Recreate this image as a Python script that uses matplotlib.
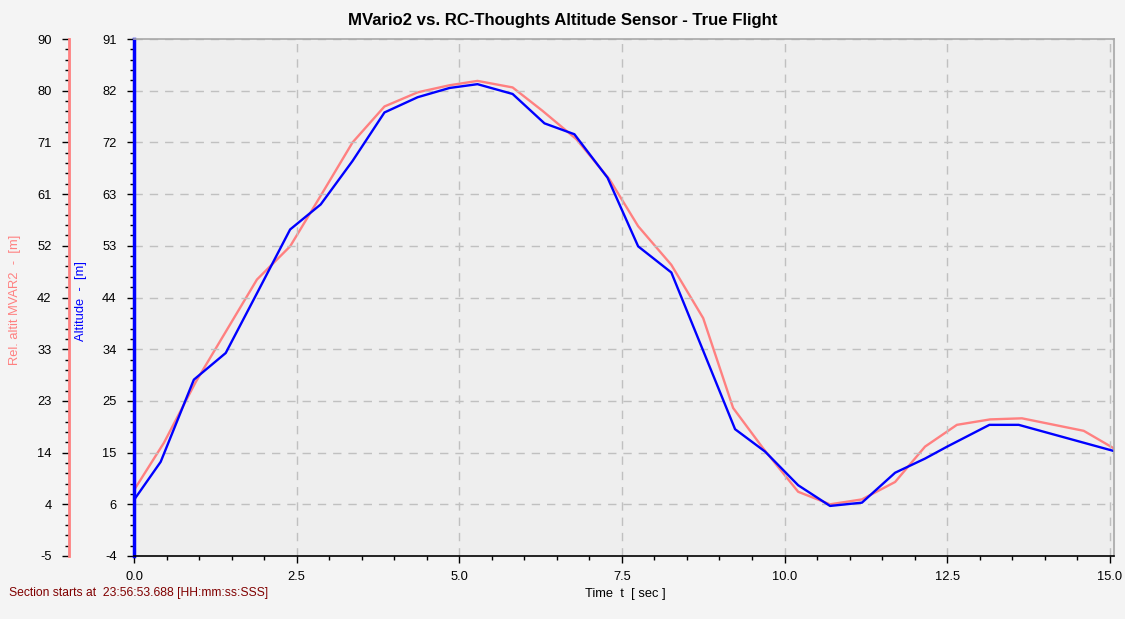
import matplotlib
matplotlib.use('Agg')
import matplotlib.pyplot as plt
from matplotlib.ticker import MultipleLocator, FixedLocator

plt.rcParams['font.family'] = ['Liberation Sans', 'DejaVu Sans']

# RC-Thoughts altitude (blue, inner axis)
t_blue = [0.0, 0.41, 0.92, 1.41, 1.90, 2.40, 2.87, 3.36, 3.85, 4.36, 4.85, 5.28,
          5.82, 6.31, 6.77, 7.28, 7.75, 8.26, 8.74, 9.24, 9.70, 10.21, 10.70,
          11.19, 11.70, 12.16, 12.50, 13.15, 13.60, 15.06]
alt_blue = [6.3, 13.3, 28.4, 33.3, 44.5, 56.0, 60.6, 68.6, 77.5, 80.3, 82.0, 82.7,
            80.9, 75.5, 73.5, 65.5, 52.9, 48.1, 34.0, 19.3, 15.2, 9.0, 5.2,
            5.8, 11.3, 13.9, 16.1, 20.1, 20.1, 15.3]

# MVario2 relative altitude (red, outer axis)
t_red = [0.0, 0.46, 0.95, 1.43, 1.89, 2.40, 2.90, 3.36, 3.85, 4.36, 4.85, 5.28,
         5.82, 6.28, 6.80, 7.31, 7.75, 8.26, 8.75, 9.21, 9.67, 10.21, 10.70,
         11.19, 11.70, 12.16, 12.65, 13.16, 13.65, 14.60, 15.06]
alt_red = [7.1, 15.8, 27.0, 36.6, 45.8, 51.9, 61.8, 71.0, 77.6, 80.2, 81.5, 82.3,
           81.1, 76.8, 71.6, 64.2, 55.6, 48.5, 38.7, 22.2, 14.8, 6.8, 4.5,
           5.4, 8.6, 15.1, 19.1, 20.1, 20.3, 18.0, 14.8]

blue_ticks = [-4, 5.5, 15, 24.5, 34, 43.5, 53, 62.5, 72, 81.5, 91]
blue_labels = ['-4', '6', '15', '25', '34', '44', '53', '63', '72', '82', '91']
red_ticks = [-5, 4.5, 14, 23.5, 33, 42.5, 52, 61.5, 71, 80.5, 90]
red_labels = ['-5', '4', '14', '23', '33', '42', '52', '61', '71', '80', '90']
x_ticks = [0.0, 2.5, 5.0, 7.5, 10.0, 12.5, 15.0]

FS = 9.3

W, H = 1125, 619
fig = plt.figure(figsize=(W / 100, H / 100), dpi=100, facecolor='#f4f4f4')
L, R, T, B = 134, 1114, 39, 556
fig.patches.append(plt.Rectangle((L / W, 1 - B / H), (R - L) / W, (B - T) / H,
                                 transform=fig.transFigure, color='#eeeeee', zorder=-10))

# outer red axis (drawn first, underneath)
ax2 = fig.add_axes([L / W, 1 - B / H, (R - L) / W, (B - T) / H])
ax2.patch.set_visible(False)
ax2.plot(t_red, alt_red, color='#ff8080', lw=1.7)
ax2.set_xlim(0, 15.065)
ax2.set_ylim(-5, 90)
ax2.set_xticks([])
ax2.spines['left'].set_position(('outward', 65 * 0.72))
ax2.spines['left'].set_color('#ff8080')
ax2.spines['left'].set_linewidth(2)
for s in ['top', 'right', 'bottom']:
    ax2.spines[s].set_visible(False)
ax2.set_yticks(red_ticks)
ax2.set_yticklabels(red_labels)
ax2.yaxis.set_minor_locator(FixedLocator([red_ticks[0] + i * 1.9 for i in range(51)]))
ax2.tick_params(axis='y', which='major', length=5, width=1, labelsize=FS, pad=7.5, colors='black')
ax2.tick_params(axis='y', which='minor', length=3, width=1)

# inner blue axis
ax = fig.add_axes([L / W, 1 - B / H, (R - L) / W, (B - T) / H])
ax.patch.set_visible(False)
ax.plot(t_blue, alt_blue, color='#0000ff', lw=1.7)
ax.set_xlim(0, 15.065)
ax.set_ylim(-4, 91)

ax.set_xticks(x_ticks)
ax.set_xticklabels(['%.1f' % v for v in x_ticks])
ax.xaxis.set_minor_locator(MultipleLocator(0.5))
ax.set_yticks(blue_ticks)
ax.set_yticklabels(blue_labels)
ax.yaxis.set_minor_locator(FixedLocator([blue_ticks[0] + i * 1.9 for i in range(51)]))

ax.grid(True, which='major', color='#c0c0c0', ls=(0, (6, 5)), lw=1.0)
ax.tick_params(axis='both', which='major', length=5, width=1, labelsize=FS, colors='black')
ax.tick_params(axis='both', which='minor', length=3, width=1)
ax.tick_params(axis='y', pad=7.5)
ax.tick_params(axis='x', pad=6)

for s in ['top', 'right']:
    ax.spines[s].set_color('#a8a8a8')
    ax.spines[s].set_linewidth(1.2)
ax.spines['bottom'].set_color('black')
ax.spines['bottom'].set_linewidth(1.2)
ax.spines['left'].set_color('#0000ff')
ax.spines['left'].set_linewidth(2.5)

fig.text(15 / W, 1 - 300 / H, 'Rel. altit MVAR2  -  [m]', rotation=90, color='#ff8080',
         fontsize=FS, ha='center', va='center')
fig.text(81 / W, 1 - 301 / H, 'Altitude  -  [m]', rotation=90, color='#0000ff',
         fontsize=FS, ha='center', va='center')
fig.text(0.5, 1 - 20 / H, 'MVario2 vs. RC-Thoughts Altitude Sensor - True Flight',
         fontsize=12.1, fontweight='bold', ha='center', va='center')
fig.text(9 / W, 1 - 593 / H, 'Section starts at  23:56:53.688 [HH:mm:ss:SSS]',
         color='#800000', fontsize=8.7, ha='left', va='center')
fig.text(625 / W, 1 - 594 / H, 'Time  t  [ sec ]', fontsize=FS, ha='center', va='center')

fig.savefig('out.png', dpi=100, facecolor=fig.get_facecolor())
